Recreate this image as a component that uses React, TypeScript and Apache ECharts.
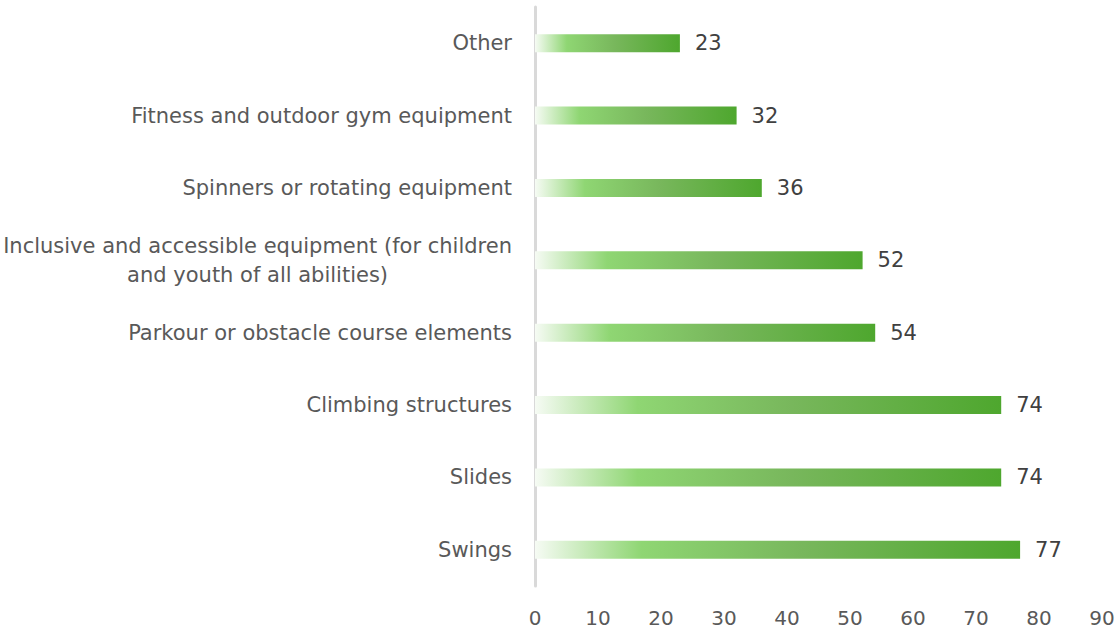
import React, { useEffect, useRef } from "react";
import * as echarts from "echarts";

const categories = [
  "Other",
  "Fitness and outdoor gym equipment",
  "Spinners or rotating equipment",
  "Inclusive and accessible equipment (for children\nand youth of all abilities)",
  "Parkour or obstacle course elements",
  "Climbing structures",
  "Slides",
  "Swings",
];
const values = [23, 32, 36, 52, 54, 74, 74, 77];
const xMin = 0;
const xMax = 90;
const xInterval = 10;

const FONT = "'DejaVu Sans', sans-serif";

export default function App() {
  const ref = useRef<HTMLDivElement>(null);
  useEffect(() => {
    if (!ref.current) return;
    const chart = echarts.init(ref.current, undefined, { renderer: "svg" });
    const gradient = new echarts.graphic.LinearGradient(0, 0, 1, 0, [
      { offset: 0, color: "#f6fbf4" },
      { offset: 0.22, color: "#8fd673" },
      { offset: 0.55, color: "#78b75c" },
      { offset: 1, color: "#4ea72e" },
    ]);
    chart.setOption({
      animation: false,
      backgroundColor: "#ffffff",
      grid: { left: 535, right: 18, top: 7, bottom: 44, containLabel: false },
      xAxis: {
        type: "value",
        min: xMin,
        max: xMax,
        interval: xInterval,
        splitLine: { show: false },
        axisLine: { show: false },
        axisTick: { show: false },
        axisLabel: { color: "#595959", fontSize: 20, fontFamily: FONT, margin: 22 },
      },
      yAxis: {
        type: "category",
        data: categories,
        inverse: true,
        axisLine: { show: true, lineStyle: { color: "#d9d9d9", width: 3 } },
        axisTick: { show: false },
        axisLabel: {
          margin: 23,
          fontFamily: FONT,
          fontSize: 21,
          color: "#595959",
          formatter: (v: string) =>
            v
              .split("\n")
              .map((l) => "{c|" + l + "}")
              .join("\n"),
          rich: {
            c: {
              align: "center",
              fontFamily: FONT,
              fontSize: 21,
              color: "#595959",
              lineHeight: 29,
            },
          },
        },
      },
      series: [
        {
          type: "bar",
          data: values,
          barWidth: 18,
          itemStyle: { color: gradient },
          label: {
            show: true,
            position: "right",
            distance: 15,
            color: "#404040",
            fontSize: 21,
            fontFamily: FONT,
          },
        },
      ],
    });
    return () => chart.dispose();
  }, []);
  return (
    <div
      ref={ref}
      style={{ position: "fixed", left: 0, top: 0, width: 1120, height: 630 }}
    />
  );
}
